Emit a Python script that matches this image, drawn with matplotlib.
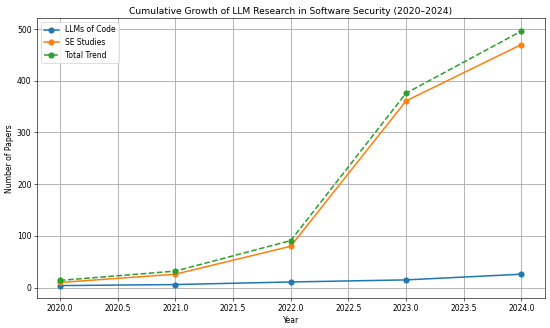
import matplotlib
matplotlib.use("Agg")
import matplotlib.pyplot as plt

years = [2020, 2021, 2022, 2023, 2024]
llms_of_code = [4, 6, 11, 15, 26]
se_studies = [10, 26, 80, 361, 470]
total_trend = [a + b for a, b in zip(llms_of_code, se_studies)]

fig = plt.figure(figsize=(10, 5.964), dpi=55)
plt.plot(years, llms_of_code, marker='o', lw=2, ms=7, label="LLMs of Code")
plt.plot(years, se_studies, marker='o', lw=2, ms=7, label="SE Studies")
plt.plot(years, total_trend, marker='o', lw=2, ms=7, linestyle='--', label="Total Trend")
plt.title("Cumulative Growth of LLM Research in Software Security (2020–2024)")
plt.xlabel("Year")
plt.ylabel("Number of Papers")
plt.legend()
plt.grid(True, lw=1.2)
plt.subplots_adjust(left=0.067, right=0.99, top=0.944, bottom=0.0905)
plt.savefig("out.png")
